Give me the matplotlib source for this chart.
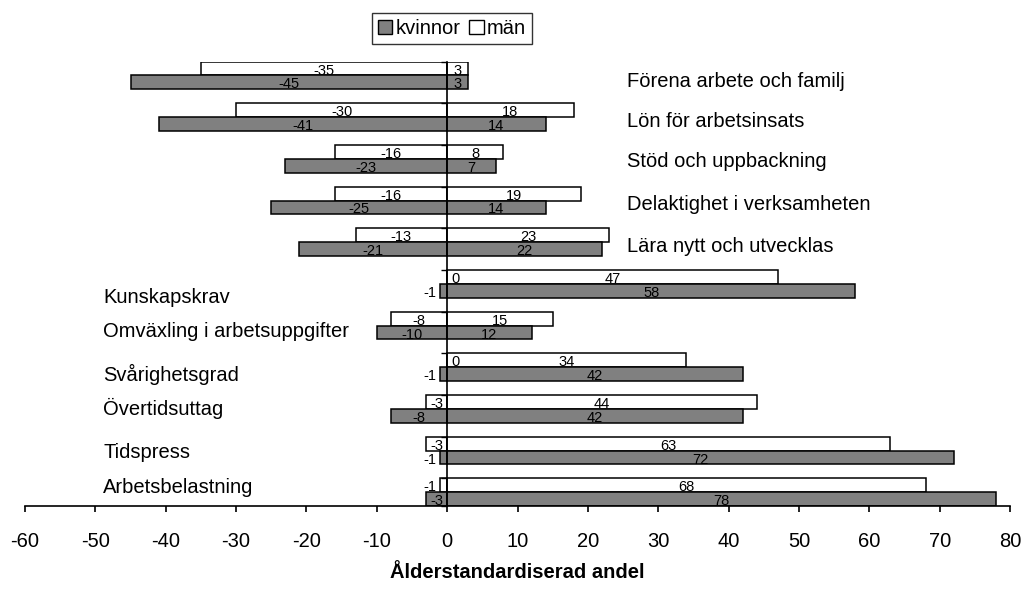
import numpy as np
import matplotlib
matplotlib.use("Agg")
import matplotlib.pyplot as plt
from matplotlib.patches import Patch

plt.rcParams['font.family'] = ['Liberation Sans', 'DejaVu Sans']
plt.rcParams['axes.unicode_minus'] = False

categories = ["Förena arbete och familj", "Lön för arbetsinsats", "Stöd och uppbackning",
              "Delaktighet i verksamheten", "Lära nytt och utvecklas", "Kunskapskrav",
              "Omväxling i arbetsuppgifter", "Svårighetsgrad", "Övertidsuttag",
              "Tidspress", "Arbetsbelastning"]

man_neg = [-35, -30, -16, -16, -13, 0, -8, 0, -3, -3, -1]
man_pos = [3, 18, 8, 19, 23, 47, 15, 34, 44, 63, 68]
kv_neg = [-45, -41, -23, -25, -21, -1, -10, -1, -8, -1, -3]
kv_pos = [3, 14, 7, 14, 22, 58, 12, 42, 42, 72, 78]

# which side the category name sits on, and small vertical nudges (in category units)
label_side = ["right"] * 5 + ["left"] * 6
label_nudge = [0.28, 0.23, 0.19, 0.23, 0.23, 0.47, 0.27, 0.33, 0.15, 0.19, 0.01]

GRAY = "#808080"
h = 0.331  # bar height in category units


def value_label(ax, v, y):
    if v == 0:
        ax.text(1.2, y + 0.05, "0", ha="center", va="center", fontsize=10.5)
    elif abs(v) <= 1:
        ax.text(v - 0.5, y + 0.05, str(v), ha="right", va="center", fontsize=10.5)
    else:
        ax.text(v / 2.0, y + 0.05, str(v), ha="center", va="center", fontsize=10.5)


fig = plt.figure(figsize=(10.21, 5.90), dpi=100)
ax = fig.add_axes([25 / 1021, 84 / 590, 985 / 1021, 444.3 / 590])

y = np.arange(len(categories))
y_man = y - h / 2
y_kv = y + h / 2

ax.barh(y_man, man_neg, height=h, color="white", edgecolor="black", linewidth=1.1)
ax.barh(y_man, man_pos, height=h, color="white", edgecolor="black", linewidth=1.1)
ax.barh(y_kv, kv_neg, height=h, color=GRAY, edgecolor="black", linewidth=1.1)
ax.barh(y_kv, kv_pos, height=h, color=GRAY, edgecolor="black", linewidth=1.1)

for i in range(len(categories)):
    value_label(ax, man_neg[i], y_man[i])
    value_label(ax, man_pos[i], y_man[i])
    value_label(ax, kv_neg[i], y_kv[i])
    value_label(ax, kv_pos[i], y_kv[i])
    if label_side[i] == "right":
        ax.text(25.6, y[i] + label_nudge[i], categories[i], ha="left", va="baseline", fontsize=14.5)
    else:
        ax.text(-48.9, y[i] + label_nudge[i], categories[i], ha="left", va="baseline", fontsize=14.5)

ax.set_xlim(-60, 80)
ax.set_ylim(len(categories) - 1 + h, -h)
ax.set_xticks(np.arange(-60, 81, 10))
ax.set_yticks(np.append(y - h, len(categories) - 1 + h))
ax.set_yticklabels([])

for s in ["top", "right"]:
    ax.spines[s].set_visible(False)
ax.spines["left"].set_position(("data", 0))
ax.spines["left"].set_linewidth(1.2)
ax.spines["bottom"].set_linewidth(1.2)

ax.tick_params(axis="x", direction="out", length=4.5, width=1.2, pad=14, labelsize=14.5)
ax.tick_params(axis="y", direction="out", length=4, width=1.0)

ax.set_xlabel("Ålderstandardiserad andel", fontsize=14.5, fontweight="bold", labelpad=9)

handles = [Patch(facecolor=GRAY, edgecolor="black", label="kvinnor"),
           Patch(facecolor="white", edgecolor="black", label="män")]
leg = fig.legend(handles=handles, loc="upper center", bbox_to_anchor=(452 / 1021, 1 - 13 / 590),
                 ncol=2, fontsize=14.5, frameon=True, fancybox=False, shadow=False,
                 handlelength=0.7, handleheight=0.65, handletextpad=0.15, columnspacing=0.45,
                 borderpad=0.3, borderaxespad=0)
leg.get_frame().set_edgecolor("black")
leg.get_frame().set_linewidth(1.0)

plt.savefig("out.png", dpi=100)
